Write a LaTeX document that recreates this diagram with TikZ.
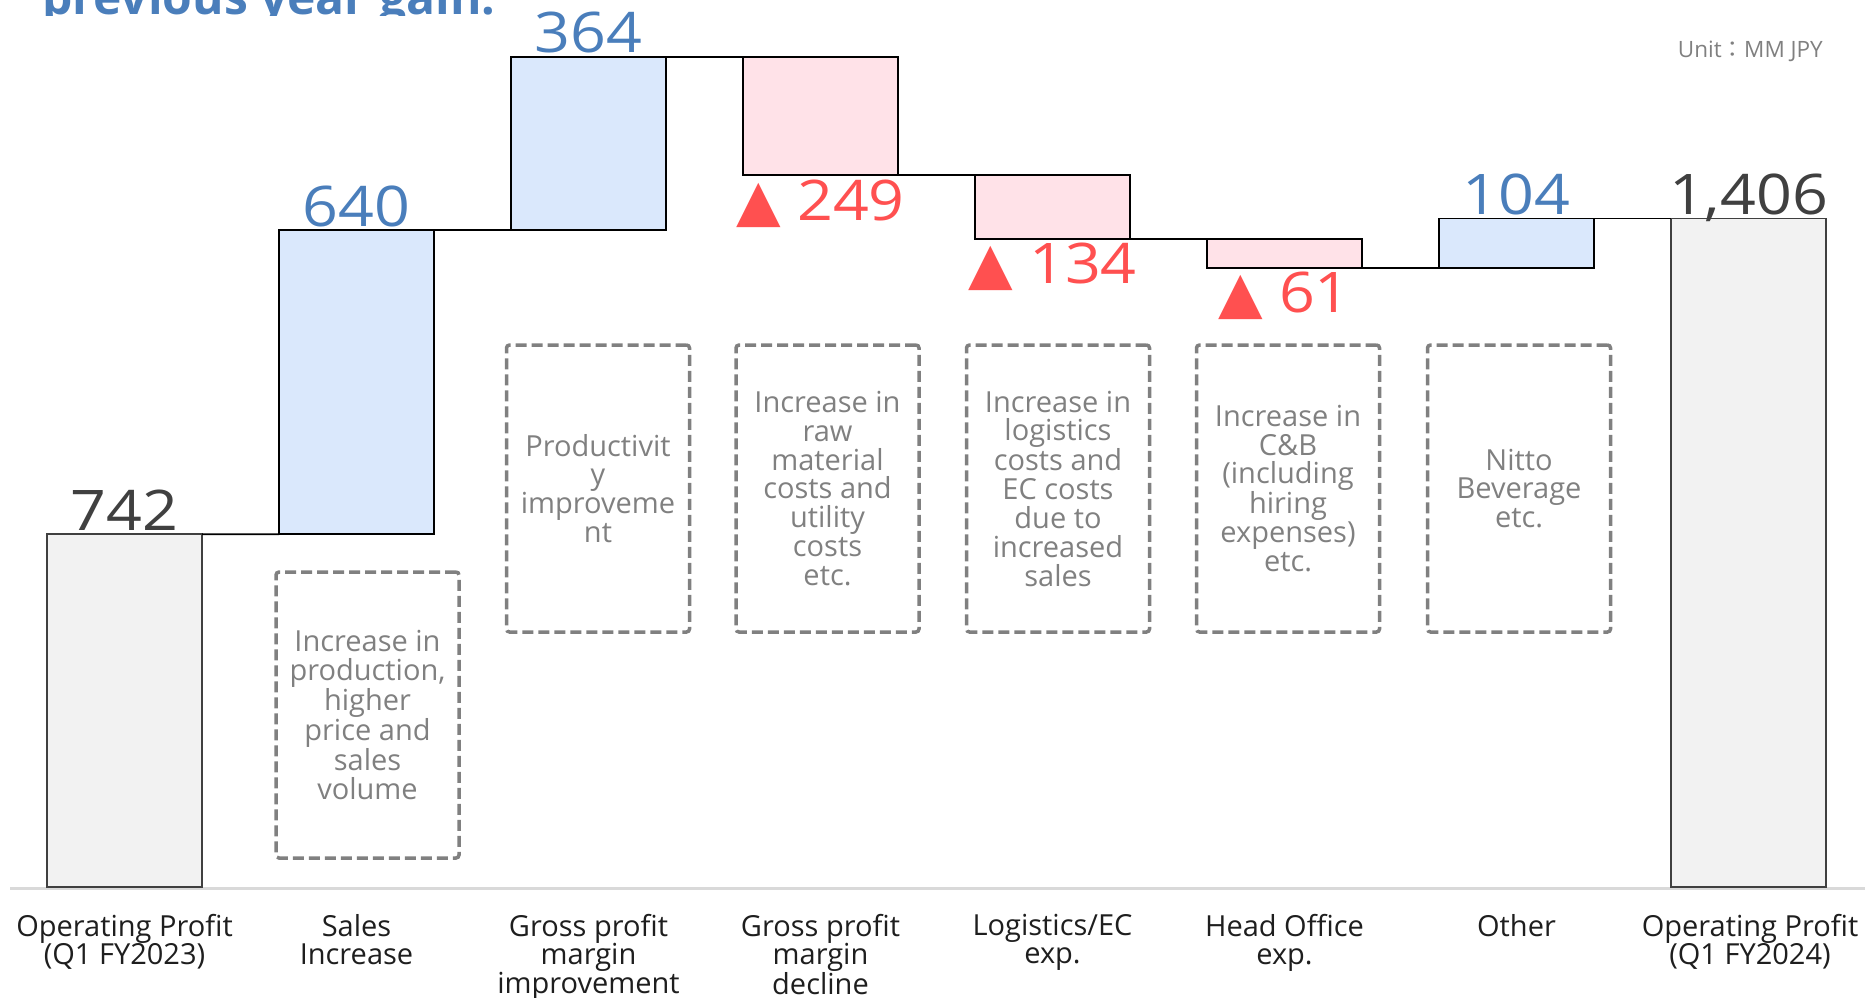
\documentclass[tikz,border=0pt]{standalone}
\usepackage{fontspec}
\setmainfont{Open Sans}
\newfontfamily\numfont[FakeStretch=1.12]{Open Sans}
\newfontfamily\dejavu{DejaVu Sans}
\newfontfamily\cjk{Noto Sans CJK JP}
\usetikzlibrary{calc}
\definecolor{bluefill}{HTML}{DAE8FC}
\definecolor{pinkfill}{HTML}{FFE2E8}
\definecolor{grayfill}{HTML}{F2F2F2}
\definecolor{bluetext}{HTML}{4A7EBB}
\definecolor{redtext}{HTML}{FF5050}
\definecolor{darktext}{HTML}{404040}
\definecolor{boxgray}{HTML}{808080}
\definecolor{axisgray}{HTML}{D9D9D9}
\definecolor{labeltext}{HTML}{1E1E1E}
\tikzset{
  barbox/.style={draw=black, line width=1.8pt, inner sep=0pt, outer sep=0pt,
    minimum width=155pt, anchor=north west},
  upbar/.style={barbox, fill=bluefill},
  downbar/.style={barbox, fill=pinkfill},
  totbar/.style={barbox, fill=grayfill, draw=darktext},
  conn/.style={draw=black, line width=1.8pt},
  axisline/.style={draw=axisgray, line width=3pt},
  numlbl/.style={font=\numfont\fontsize{56}{60}\selectfont, inner sep=0pt, anchor=base},
  notebox/.style={draw=boxgray, line width=3.5pt, dash pattern=on 11pt off 5pt,
    rounded corners=3pt, minimum width=183pt, minimum height=287pt,
    align=center, text=boxgray, inner sep=0pt,
    font=\fontsize{29}{28.8}\selectfont},
  catlbl/.style={align=center, text=labeltext, inner sep=0pt, anchor=north,
    font=\fontsize{29}{28.5}\selectfont},
}
\newcommand{\tri}{{\dejavu\fontsize{58}{60}\selectfont ▲}}
\begin{document}
\begin{tikzpicture}[x=1pt,y=-1pt]
\useasboundingbox (0,0) rectangle (1865,998);
\clip (0,0) rectangle (1865,998);

% title (clipped)
\begin{scope}
\clip (0,0) rectangle (1865,15.5);
\node[anchor=base west, inner sep=0pt, text=bluetext,
  font=\fontsize{48}{50}\selectfont\bfseries] (title) at (42,15) {previous year gain.};
\end{scope}

% unit
\node[anchor=base east, inner sep=0pt, text=boxgray, font=\fontsize{22.5}{24}\selectfont]
  (unit) at (1823,57) {Unit{\cjk ：}MM JPY};

% axis
\coordinate (axl) at (10,888);
\coordinate (axr) at (1865,888);
\draw[axisline] (axl) -- (axr);

% bars
\node[totbar,  minimum height=352.8pt] (b1) at (47,534.2) {};
\node[upbar,   minimum height=304.3pt] (b2) at (279,229.9) {};
\node[upbar,   minimum height=173.1pt] (b3) at (511,56.8) {};
\node[downbar, minimum height=118.4pt] (b4) at (743,56.8) {};
\node[downbar, minimum height=63.7pt]  (b5) at (975,175.2) {};
\node[downbar, minimum height=29pt]    (b6) at (1207,238.9) {};
\node[upbar,   minimum height=49.5pt]  (b7) at (1439,218.4) {};
\node[totbar,  minimum height=668.6pt] (b8) at (1671,218.4) {};

% connectors
\draw[conn] (b1.north east) -- (b2.south west);
\draw[conn] (b2.north east) -- (b3.south west);
\draw[conn] (b3.north east) -- (b4.north west);
\draw[conn] (b4.south east) -- (b5.north west);
\draw[conn] (b5.south east) -- (b6.north west);
\draw[conn] (b6.south east) -- (b7.south west);
\draw[conn] (b7.north east) -- (b8.north west);

% value labels
\node[numlbl, text=darktext] (v1) at ($(b1.north)+(0,-3.5)$) {742};
\node[numlbl, text=bluetext] (v2) at ($(b2.north)+(0,-3.5)$) {640};
\node[numlbl, text=bluetext] (v3) at ($(b3.north)+(0,-4)$) {364};
\node[numlbl, text=redtext]  (v4) at ($(b4.south)+(0,45)$) {\tri{} 249};
\node[numlbl, text=redtext]  (v5) at ($(b5.south)+(0,45)$) {\tri{} 134};
\node[numlbl, text=redtext]  (v6) at ($(b6.south)+(0,45)$) {\tri{} 61};
\node[numlbl, text=bluetext] (v7) at ($(b7.north)+(0,-4)$) {104};
\node[numlbl, text=darktext] (v8) at ($(b8.north)+(0,-4)$) {1,406};

% note boxes
\node[notebox, minimum height=286pt] (n1) at (367.5,715) {Increase in\\production,\\higher\\price and\\sales\\volume};
\node[notebox] (n2) at (598,488.5) {Productivit\\y\\improveme\\nt};
\node[notebox] (n3) at (827.5,488.5) {Increase in\\raw\\material\\costs and\\utility\\costs\\etc.};
\node[notebox] (n4) at (1058,488.5) {Increase in\\logistics\\costs and\\EC costs\\due to\\increased\\sales};
\node[notebox] (n5) at (1288,488.5) {Increase in\\C\&B\\(including\\hiring\\expenses)\\etc.};
\node[notebox] (n6) at (1519,488.5) {Nitto\\Beverage\\etc.};

% category labels
\node[catlbl] (c1) at (124.5,914) {Operating Profit\\(Q1 FY2023)};
\node[catlbl] (c2) at (356.5,914) {Sales\\Increase};
\node[catlbl] (c3) at (588.5,914) {Gross profit\\margin\\improvement};
\node[catlbl] (c4) at (820.5,914) {Gross profit\\margin\\decline};
\node[catlbl] (c5) at (1052.5,914) {Logistics/EC\\exp.};
\node[catlbl] (c6) at (1284.5,914) {Head Office\\exp.};
\node[catlbl] (c7) at (1516.5,914) {Other};
\node[catlbl] (c8) at (1750,914) {Operating Profit\\(Q1 FY2024)};
\end{tikzpicture}
\end{document}
